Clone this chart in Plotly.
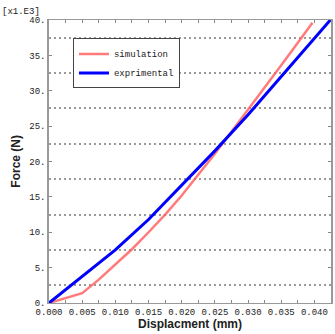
import plotly.graph_objects as go

# Data (force in kN, i.e. x1.E3 N; displacement in mm)
sim_x = [0.0, 0.005, 0.0075, 0.010, 0.0125, 0.015, 0.0175, 0.020, 0.0225, 0.025,
         0.0275, 0.030, 0.0325, 0.035, 0.0375, 0.0397]
sim_y = [0.0, 1.4, 3.3, 5.4, 7.6, 10.0, 12.5, 15.2, 18.1, 21.1,
         24.2, 27.3, 30.5, 33.6, 36.8, 39.6]

exp_x = [0.0, 0.005, 0.010, 0.015, 0.020, 0.025, 0.030, 0.035, 0.040, 0.0424]
exp_y = [0.0, 3.7, 7.5, 11.8, 16.6, 21.5, 26.6, 32.0, 37.4, 40.0]

x_ticks = [0.000, 0.005, 0.010, 0.015, 0.020, 0.025, 0.030, 0.035, 0.040]
x_minor = [0.0025, 0.0075, 0.0125, 0.0175, 0.0225, 0.0275, 0.0325, 0.0375, 0.0425]
y_ticks = [0, 5, 10, 15, 20, 25, 30, 35, 40]
y_ticktext = [f"{v}." for v in y_ticks]
y_grid = [2.5, 7.5, 12.5, 17.5, 22.5, 27.5, 32.5, 37.5]

mono = "Liberation Mono"

fig = go.Figure()
fig.add_trace(go.Scatter(x=sim_x, y=sim_y, mode="lines", name="simulation",
                         line=dict(color="rgba(255,90,90,0.8)", width=2.5)))
fig.add_trace(go.Scatter(x=exp_x, y=exp_y, mode="lines", name="exprimental",
                         line=dict(color="#0000ff", width=3)))

fig.update_layout(
    width=335, height=334,
    margin=dict(l=49, r=2, t=20, b=31),
    plot_bgcolor="white", paper_bgcolor="white",
    showlegend=True,
    legend=dict(x=0.085, y=0.935, xanchor="left", yanchor="top",
                bgcolor="white", bordercolor="#444", borderwidth=1,
                font=dict(family=mono, size=9, color="#222"),
                itemwidth=30, tracegroupgap=0),
    font=dict(family=mono, size=9, color="#222"),
)

fig.update_xaxes(
    range=[0, 0.0425], tickvals=x_ticks, tickformat=".3f",
    ticks="inside", ticklen=3, tickcolor="#888",
    showline=True, linecolor="#999", linewidth=1, mirror="ticks",
    showgrid=False, zeroline=False,
    tickfont=dict(family=mono, size=9, color="#222"),
    minor=dict(tickmode="array", tickvals=x_minor, ticks="inside", ticklen=3,
               tickcolor="#888", showgrid=False),
)
fig.update_yaxes(
    range=[0, 40], tickvals=y_ticks, ticktext=y_ticktext,
    ticks="inside", ticklen=3, tickcolor="#888",
    showline=True, linecolor="#999", linewidth=1.5, mirror="ticks",
    showgrid=False, zeroline=False,
    tickfont=dict(family=mono, size=9, color="#222"),
    minor=dict(tickmode="array", tickvals=y_grid, ticks="", showgrid=True,
               gridcolor="#999", griddash="2px,3px", gridwidth=1.5),
)

fig.add_annotation(text="[x1.E3]", xref="paper", yref="paper", x=-0.1, y=1.0,
                   xanchor="center", yanchor="bottom", yshift=1, showarrow=False,
                   font=dict(family=mono, size=9, color="#222"))
fig.add_annotation(text="<b>Force (N)</b>", xref="paper", yref="paper",
                   x=-0.12, y=0.5, xanchor="center", yanchor="middle", textangle=-90,
                   showarrow=False,
                   font=dict(family="Liberation Sans", size=12, color="#222"))
fig.add_annotation(text="<b>Displacment (mm)</b>", xref="paper", yref="paper",
                   x=0.5, y=0, yshift=-21, xanchor="center", yanchor="middle",
                   showarrow=False,
                   font=dict(family="Liberation Sans", size=12, color="#222"))

fig.write_html("out.html", config={"displayModeBar": False},
               post_script="document.body.style.margin='0';document.body.style.padding='0';")
